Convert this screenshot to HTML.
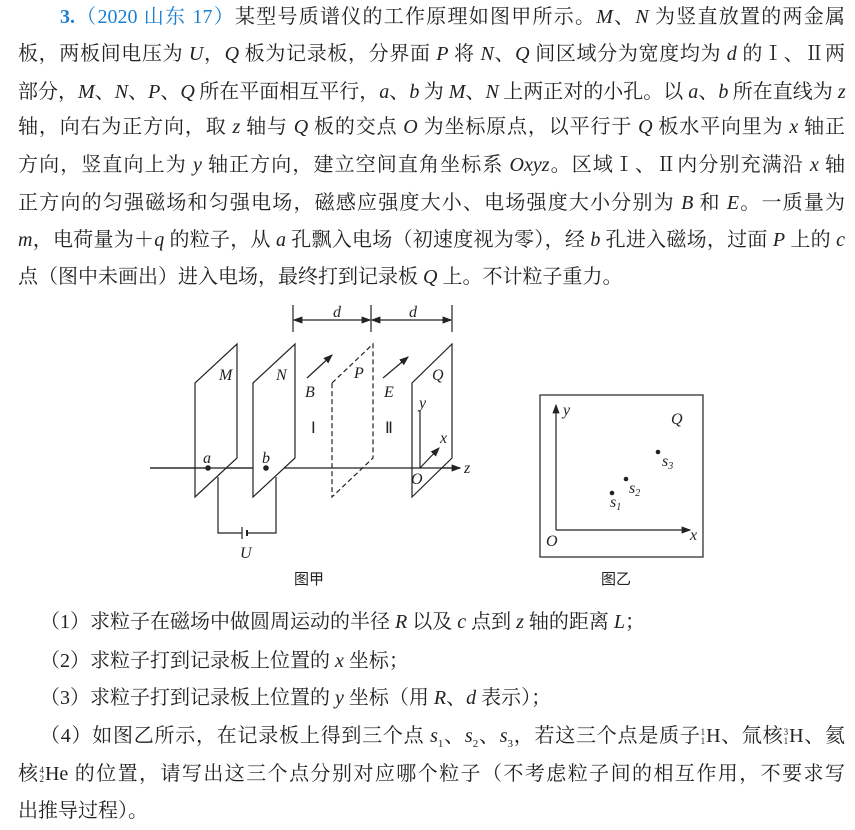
<!DOCTYPE html>
<html><head><meta charset="utf-8"><style>
body{margin:0;width:855px;height:830px;background:#fff;position:relative;overflow:hidden;font-family:"Liberation Serif","Noto Serif CJK SC",serif;color:#222}
.l{position:absolute;left:18px;width:827px;font-size:20px;line-height:24px;text-align:justify;text-align-last:justify;white-space:normal}
.q{position:absolute;left:40px;font-size:20px;line-height:24px}
i{font-family:"Liberation Serif",serif}
.b{color:#1a7fd0}
.n{display:inline-block;vertical-align:middle;font-size:9px;line-height:9px;text-align:right;margin-right:1px}
</style></head><body>
<div class="l" style="left:60px;width:785px;top:5px"><span class="b"><b>3.</b>（2020 山东 17）</span>某型号质谱仪的工作原理如图甲所示。<i>M</i>、<i>N</i> 为竖直放置的两金属</div>
<div class="l" style="top:42px">板，两板间电压为 <i>U</i>，<i>Q</i> 板为记录板，分界面 <i>P</i> 将 <i>N</i>、<i>Q</i> 间区域分为宽度均为 <i>d</i> 的Ⅰ、Ⅱ两</div>
<div class="l" style="top:80px;letter-spacing:-0.6px">部分，<i>M</i>、<i>N</i>、<i>P</i>、<i>Q</i> 所在平面相互平行，<i>a</i>、<i>b</i> 为 <i>M</i>、<i>N</i> 上两正对的小孔。以 <i>a</i>、<i>b</i> 所在直线为 <i>z</i></div>
<div class="l" style="top:115px">轴，向右为正方向，取 <i>z</i> 轴与 <i>Q</i> 板的交点 <i>O</i> 为坐标原点，以平行于 <i>Q</i> 板水平向里为 <i>x</i> 轴正</div>
<div class="l" style="top:153px">方向，竖直向上为 <i>y</i> 轴正方向，建立空间直角坐标系 <i>Oxyz</i>。区域Ⅰ、Ⅱ内分别充满沿 <i>x</i> 轴</div>
<div class="l" style="top:191px">正方向的匀强磁场和匀强电场，磁感应强度大小、电场强度大小分别为 <i>B</i> 和 <i>E</i>。一质量为</div>
<div class="l" style="top:228px"><i>m</i>，电荷量为＋<i>q</i> 的粒子，从 <i>a</i> 孔飘入电场（初速度视为零），经 <i>b</i> 孔进入磁场，过面 <i>P</i> 上的 <i>c</i></div>
<div class="l" style="top:265px;text-align-last:left">点（图中未画出）进入电场，最终打到记录板 <i>Q</i> 上。不计粒子重力。</div>

<svg width="855" height="600" style="position:absolute;left:0;top:0" font-family="Liberation Serif" font-style="italic" font-size="16" stroke="#222" fill="none" stroke-width="1.2">
<defs><marker id="ar" markerWidth="8" markerHeight="6" refX="7" refY="3" orient="auto"><path d="M0,0L8,3L0,6z" fill="#222" stroke="none"/></marker>
<marker id="al" markerWidth="8" markerHeight="6" refX="1" refY="3" orient="auto"><path d="M8,0L0,3L8,6z" fill="#222" stroke="none"/></marker></defs>
<line x1="150" y1="468" x2="460" y2="468" marker-end="url(#ar)"/>
<path d="M195,383L237,344L237,458L195,497Z" fill="#fff"/>
<path d="M253,383L295,344L295,458L253,497Z" fill="#fff"/>
<line x1="150" y1="468" x2="237" y2="468"/><line x1="237" y1="468" x2="253" y2="468"/>
<path d="M332,383L373,344L373,458L332,497Z" stroke-dasharray="5,3"/>
<path d="M412,383L452,344L452,458L412,497Z" fill="#fff"/>
<line x1="412" y1="468" x2="460" y2="468"/>
<line x1="195" y1="468" x2="205" y2="468"/>
<circle cx="208" cy="468" r="2.8" fill="#222" stroke="none"/>
<circle cx="266" cy="468" r="2.8" fill="#222" stroke="none"/>
<path d="M218,477V533H242M247,533H276V477"/>
<line x1="242" y1="527" x2="242" y2="539"/><line x1="247" y1="530" x2="247" y2="536" stroke-width="2"/>
<line x1="293" y1="305" x2="293" y2="332"/><line x1="371" y1="305" x2="371" y2="332"/><line x1="452" y1="305" x2="452" y2="332"/>
<line x1="294" y1="320" x2="370" y2="320" marker-start="url(#al)" marker-end="url(#ar)"/>
<line x1="372" y1="320" x2="451" y2="320" marker-start="url(#al)" marker-end="url(#ar)"/>
<line x1="307" y1="378" x2="332" y2="355" marker-end="url(#ar)"/>
<line x1="383" y1="378" x2="408" y2="357" marker-end="url(#ar)"/>
<line x1="420" y1="468" x2="420" y2="410"/>
<line x1="420" y1="468" x2="439" y2="448" marker-end="url(#ar)"/>
<g fill="#222" stroke="none">
<text x="333" y="317">d</text><text x="409" y="317">d</text>
<text x="219" y="380">M</text><text x="276" y="380">N</text><text x="354" y="378">P</text><text x="432" y="380">Q</text>
<text x="305" y="397">B</text><text x="384" y="397">E</text>
<text x="419" y="408">y</text><text x="440" y="443">x</text><text x="411" y="484">O</text>
<text x="203" y="463">a</text><text x="262" y="463">b</text><text x="464" y="473">z</text>
<text x="240" y="558">U</text>
<text x="311" y="433" font-style="normal">Ⅰ</text><text x="385" y="433" font-style="normal">Ⅱ</text>
<text x="294" y="584" font-style="normal" font-size="15" font-family="Noto Sans CJK SC">图甲</text>
</g>
<rect x="540" y="395" width="163" height="162"/>
<line x1="556" y1="530" x2="556" y2="405" marker-end="url(#ar)"/>
<line x1="556" y1="530" x2="690" y2="530" marker-end="url(#ar)"/>
<g fill="#222" stroke="none">
<text x="546" y="546">O</text><text x="690" y="540">x</text><text x="563" y="415">y</text><text x="671" y="424">Q</text>
<circle cx="658" cy="452" r="2.3"/><circle cx="626" cy="479" r="2.3"/><circle cx="612" cy="493" r="2.3"/>
<text x="662" y="466">s<tspan font-size="10" dy="3">3</tspan></text>
<text x="629" y="493">s<tspan font-size="10" dy="3">2</tspan></text>
<text x="610" y="507">s<tspan font-size="10" dy="3">1</tspan></text>
<text x="601" y="584" font-style="normal" font-size="15" font-family="Noto Sans CJK SC">图乙</text>
</g>
</svg>

<div class="q" style="top:610px">（1）求粒子在磁场中做圆周运动的半径 <i>R</i> 以及 <i>c</i> 点到 <i>z</i> 轴的距离 <i>L</i>；</div>
<div class="q" style="top:649px">（2）求粒子打到记录板上位置的 <i>x</i> 坐标；</div>
<div class="q" style="top:686px">（3）求粒子打到记录板上位置的 <i>y</i> 坐标（用 <i>R</i>、<i>d</i> 表示）；</div>
<div class="l" style="left:40px;width:805px;top:724px">（4）如图乙所示，在记录板上得到三个点 <i>s</i><sub style="font-size:11px">1</sub>、<i>s</i><sub style="font-size:11px">2</sub>、<i>s</i><sub style="font-size:11px">3</sub>，若这三个点是质子<span class="n">1<br>1</span>H、氚核<span class="n">3<br>1</span>H、氦</div>
<div class="l" style="top:762px">核<span class="n">4<br>2</span>He 的位置，请写出这三个点分别对应哪个粒子（不考虑粒子间的相互作用，不要求写</div>
<div class="l" style="top:799px;text-align-last:left">出推导过程）。</div>
</body></html>
